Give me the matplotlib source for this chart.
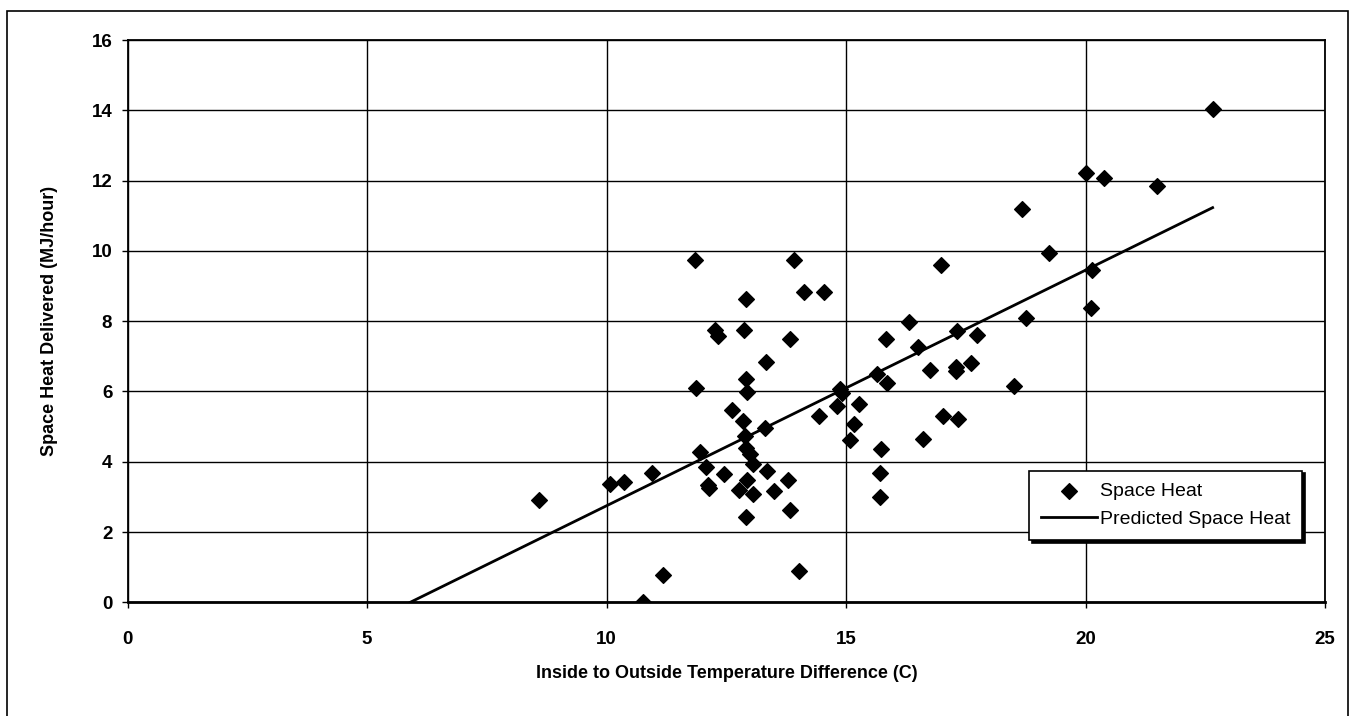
import matplotlib.pyplot as plt
from matplotlib.patches import Rectangle

plt.rcParams['font.family'] = ['Liberation Sans', 'DejaVu Sans']

# measured points (temperature difference C, space heat MJ/hour)
temp_diff = [8.58, 10.07, 10.37, 10.95, 11.18, 10.76, 11.87, 11.95, 12.07, 12.11,
             12.14, 12.27, 12.33, 11.85, 13.92, 14.12, 14.54, 12.91, 12.87, 13.83,
             15.83, 13.33, 12.91, 12.93, 12.62, 12.85, 13.30, 12.89, 12.91, 12.99,
             13.06, 12.45, 13.35, 13.78, 12.92, 12.77, 13.06, 13.49, 13.83, 12.91,
             14.01, 14.43, 14.81, 14.87, 14.92, 15.27, 15.17, 15.09, 15.64, 15.85,
             15.73, 15.71, 15.71, 20.00, 20.39, 18.68, 19.24, 16.99, 20.13, 20.11,
             18.75, 16.31, 17.32, 17.74, 16.49, 16.75, 17.30, 17.30, 17.60, 18.51,
             17.03, 17.34, 16.61, 22.65, 21.48]
space_heat = [2.92, 3.38, 3.41, 3.68, 0.77, 0.00, 6.10, 4.29, 3.84, 3.33,
              3.25, 7.76, 7.57, 9.73, 9.74, 8.83, 8.83, 8.62, 7.74, 7.50,
              7.48, 6.83, 6.36, 5.99, 5.48, 5.17, 4.95, 4.72, 4.40, 4.22,
              3.94, 3.66, 3.74, 3.47, 3.47, 3.20, 3.07, 3.16, 2.63, 2.44,
              0.89, 5.31, 5.60, 6.07, 5.95, 5.65, 5.07, 4.63, 6.50, 6.24,
              4.36, 3.69, 2.99, 12.21, 12.06, 11.18, 9.95, 9.61, 9.47, 8.38,
              8.08, 7.99, 7.73, 7.60, 7.27, 6.62, 6.70, 6.57, 6.81, 6.15,
              5.31, 5.23, 4.65, 14.03, 11.85]

# regression line end points
pred_x = [5.9, 22.65]
pred_y = [0.0, 11.23]

fig = plt.figure(figsize=(13.55, 7.16), dpi=100)
ax = fig.add_axes([0.0942, 0.1588, 0.8838, 0.7853])

# outer chart frame
fig.add_artist(Rectangle((7 / 1355, -0.01), 1341 / 1355, 1 - 11 / 716 + 0.01,
                         transform=fig.transFigure, fill=False,
                         edgecolor='black', linewidth=1.2))

ax.scatter(temp_diff, space_heat, marker='D', s=64, color='black',
           label='Space Heat', zorder=3)
ax.plot(pred_x, pred_y, color='black', linewidth=2, label='Predicted Space Heat',
        zorder=2)

ax.set_xlim(0, 25)
ax.set_ylim(0, 16)
ax.set_xticks(range(0, 26, 5))
ax.set_yticks(range(0, 17, 2))
ax.grid(True, color='black', linewidth=1.0)
ax.set_axisbelow(True)
for sp in ax.spines.values():
    sp.set_linewidth(1.3)
ax.spines['bottom'].set_linewidth(2)

ax.tick_params(direction='out', length=4, width=1, labelsize=13.5)
ax.tick_params(axis='x', pad=17)
ax.tick_params(axis='y', pad=7)
for lb in ax.get_xticklabels() + ax.get_yticklabels():
    lb.set_fontweight('bold')

ax.set_xlabel('Inside to Outside Temperature Difference (C)', fontsize=13,
              fontweight='bold', labelpad=12)
ax.set_ylabel('Space Heat Delivered (MJ/hour)', fontsize=13,
              fontweight='bold', labelpad=24)

leg = ax.legend(loc='lower right', bbox_to_anchor=(0.981, 0.111), fontsize=14,
                frameon=True, fancybox=False, shadow={'color': 'black', 'alpha': 1},
                edgecolor='black', handlelength=2.9, handletextpad=0.15,
                borderpad=0.6, labelspacing=0.55, borderaxespad=0)
leg.get_frame().set_linewidth(1.2)

fig.savefig('out.png', dpi=100)
